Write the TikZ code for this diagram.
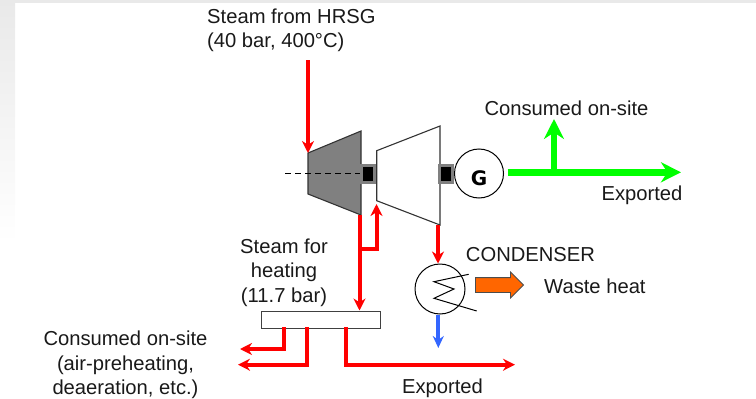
\documentclass[tikz,border=0pt]{standalone}
\usepackage{xcolor}
\usepackage{fontspec}
\setmainfont{Liberation Sans}
\newfontfamily\genfont{DejaVu Sans}
\usetikzlibrary{
  arrows.meta,
  shapes.arrows,
  positioning,
  calc
}
\definecolor{hrSteam}{HTML}{FF0000}
\definecolor{hrPower}{HTML}{00FF00}
\definecolor{hrWater}{HTML}{3366FF}
\definecolor{hrWaste}{HTML}{FF6600}
\definecolor{hrGrey}{HTML}{808080}
\definecolor{hrEdge}{HTML}{E9E9E9}
\tikzset{
  lbl/.style={font=\fontsize{20.2}{24.7}\selectfont, align=center, inner sep=0pt, text=black!90},
  steam/.style={-{Stealth[length=12pt, width=12pt]}, line width=4pt, hrSteam},
  power/.style={-{Stealth[length=20pt, width=20pt]}, line width=6.7pt, hrPower},
  water/.style={-{Stealth[length=12pt, width=11pt]}, line width=4.2pt, hrWater},
  turbine/.style={draw=black!80, line width=1.1pt, line join=miter},
  coupling/.style={draw=hrGrey, fill=black, line width=3pt, minimum width=13pt, minimum height=17pt, inner sep=0pt},
  machine/.style={draw=black, circle, fill=white, line width=1pt, inner sep=0pt, minimum size=49pt},
  header/.style={draw=black!75, fill=white, line width=1pt, minimum width=119pt, minimum height=17pt, inner sep=0pt},
  wasteout/.style={single arrow, draw=black!70, fill=hrWaste, line width=0.8pt, inner sep=0pt, minimum height=48pt,
    single arrow head extend=5.5pt, single arrow head indent=0pt}
}
\begin{document}
\begin{tikzpicture}[x=1pt, y=-1pt]
  \useasboundingbox (0,0) rectangle (756,399);
  \shade[top color=hrEdge, bottom color=white] (0,0) rectangle (15,243);
  \fill[hrEdge] (0,0) rectangle (756,3);

  \coordinate (steamin) at (308,60);
  \coordinate (hptop) at (308,153);
  \coordinate (hpout) at (359.5,215);
  \coordinate (lptip) at (376.5,204);
  \coordinate (lpout) at (438,225);
  \draw[turbine, fill=hrGrey] (hptop) -- (361,131) -- (361,215) -- (308,194) -- cycle;
  \draw[turbine, fill=white] (376.7,150.7) -- (440,126) -- (440,225) -- (376.7,200.7) -- cycle;
  \node[coupling] (shaftA) at (368,173.5) {};
  \node[coupling] (shaftB) at (446,173.5) {};
  \node[machine, right=0pt of shaftB] (gen) {\raisebox{-12pt}[0pt][0pt]{\fontsize{20}{20}\genfont\bfseries G}};
  \coordinate (axisend) at (285,173.5);
  \draw[line width=1pt, dash pattern=on 6pt off 4pt] (axisend) -- (shaftA.west);

  \node[header] (hdr) at (320.5,319.5) {};
  \node[machine, minimum size=50pt] (cond) at (440,289) {};
  \coordinate (coilA) at (468.7,274.3);
  \coordinate (coilB) at (434,281.7);
  \coordinate (coilC) at (454,289);
  \coordinate (coilD) at (434,298.3);
  \coordinate (coilE) at (476.7,311);
  \draw[line width=1pt] (coilA) -- (coilB) -- (coilC) -- (coilD) -- (coilE);
  \node[wasteout, anchor=tip] (waste) at (524,285) {\rule{0pt}{14pt}};

  \coordinate (gridbase) at (554,172.3);
  \coordinate (powerout) at (507.7,172.3);
  \coordinate (powerend) at (681,172.3);
  \coordinate (poweruse) at (554,119);
  \draw[power] (powerout) -- (powerend);
  \draw[power] (gridbase) -- (poweruse);

  \coordinate (branch) at (359.5,249);
  \draw[steam, line width=4.8pt] (steamin) -- (hptop);
  \draw[steam] (hpout) -- (hpout |- hdr.north);
  \draw[steam] (branch) -| (lptip);
  \draw[steam] (lpout) -- (lpout |- cond.north);
  \coordinate (waterend) at (438.3,348);
  \draw[water] (cond.south -| waterend) -- (waterend);

  \coordinate (useA) at (240,349);
  \coordinate (useB) at (238,364.7);
  \coordinate (expend) at (515,364.7);
  \coordinate (tapA) at (284,327);
  \coordinate (tapB) at (307,327);
  \coordinate (tapC) at (345.7,327);
  \draw[steam, line width=3.4pt] (tapA) |- (useA);
  \draw[steam] (tapB) |- (useB);
  \draw[steam] (tapC) |- (expend);

  \node[lbl, align=left, anchor=north west] (srcLbl) at (207,8.3) {Steam from HRSG\\(40 bar, 400°C)};
  \node[lbl, anchor=base] (useLbl) at (566.5,115) {Consumed on-site};
  \node[lbl, anchor=base] (expLbl) at (642,200) {Exported};
  \node[lbl, anchor=base] (condLbl) at (530.5,261.7) {CONDENSER};
  \node[lbl, anchor=base west] (wasteLbl) at (544,293) {Waste heat};
  \node[lbl] (heatLbl) at (284,272.6) {Steam for\\heating\\(11.7 bar)};
  \node[lbl] (siteLbl) at (125.5,364.8) {Consumed on-site\\(air-preheating,\\deaeration, etc.)};
  \node[lbl, anchor=base] (exp2Lbl) at (442.5,393) {Exported};
\end{tikzpicture}
\end{document}
